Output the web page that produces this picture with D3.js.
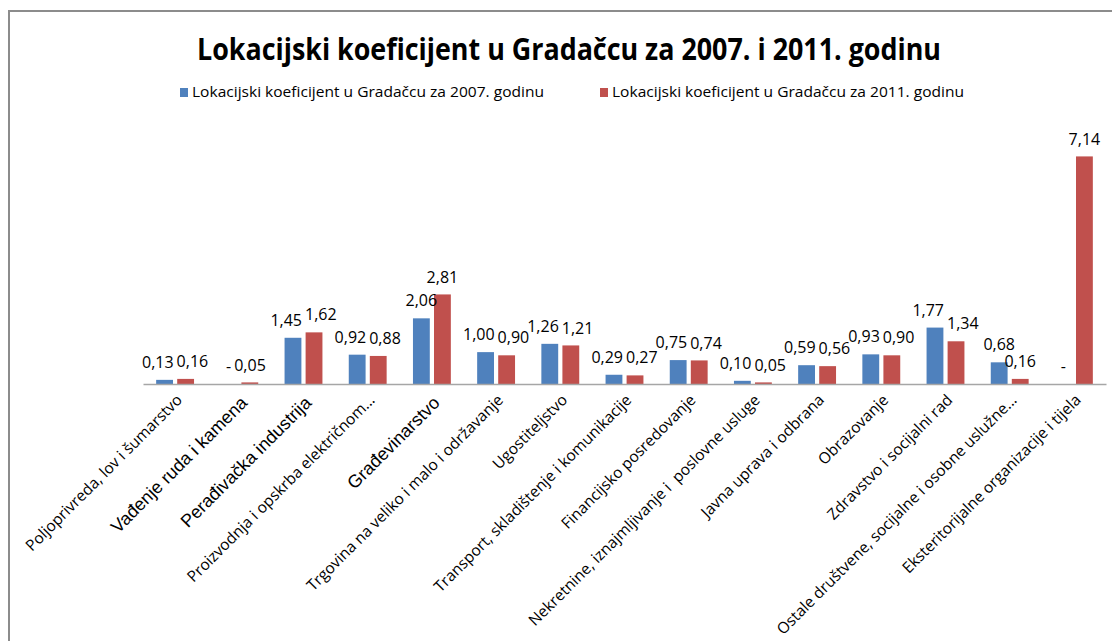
<!DOCTYPE html>
<html>
<head>
<meta charset="utf-8">
<script src="https://cdn.jsdelivr.net/npm/d3@7"></script>
<style>
  html, body { margin: 0; background: #fff; overflow: hidden; }
  svg { display: block; }
  text { fill: #000; }
</style>
</head>
<body>
<div class="canvas"></div>
<script>
// data
const categories = [
  'Poljoprivreda, lov i šumarstvo',
  'Vađenje ruda i kamena',
  'Perađivačka industrija',
  'Proizvodnja i opskrba električnom...',
  'Građevinarstvo',
  'Trgovina na veliko i malo i održavanje',
  'Ugostiteljstvo',
  'Transport, skladištenje i komunikacije',
  'Financijsko posredovanje',
  'Nekretnine, iznajmljivanje i  poslovne usluge',
  'Javna uprava i odbrana',
  'Obrazovanje',
  'Zdravstvo i socijalni rad',
  'Ostale društvene, socijalne i osobne uslužne...',
  'Eksteritorijalne organizacije i tijela'
];
const values2007 = [0.13, null, 1.45, 0.92, 2.06, 1.00, 1.26, 0.29, 0.75, 0.10, 0.59, 0.93, 1.77, 0.68, null];
const values2011 = [0.16, 0.05, 1.62, 0.88, 2.81, 0.90, 1.21, 0.27, 0.74, 0.05, 0.56, 0.90, 1.34, 0.16, 7.14];
const seriesNames = [
  'Lokacijski koeficijent u Gradačcu za 2007. godinu',
  'Lokacijski koeficijent u Gradačcu za 2011. godinu'
];
const titleText = 'Lokacijski koeficijent u Gradačcu za 2007. i 2011. godinu';

const dims = { width: 1112, height: 641 };
const plot = { left: 143, right: 1106, top: 129, bottom: 384 };
const colors = ['#4F81BD', '#C0504D'];
const calibri = "'Open Sans', sans-serif";
const arialCats = new Set(['Vađenje ruda i kamena', 'Perađivačka industrija', 'Građevinarstvo']);

const locale = d3.formatLocale({ decimal: ',', thousands: '.', grouping: [3], currency: ['', ''] });
const fmt = locale.format('.2f');

const svg = d3.select('.canvas')
  .append('svg')
  .attr('width', dims.width)
  .attr('height', dims.height);

// chart frame: only the top and left edges are inside the picture
svg.append('path')
  .attr('d', `M9,${dims.height} V11 H${dims.width}`)
  .attr('fill', 'none')
  .attr('stroke', '#8c8c8c')
  .attr('stroke-width', 2);

// title
svg.append('text')
  .attr('x', 569).attr('y', 60)
  .attr('text-anchor', 'middle')
  .attr('font-family', calibri)
  .attr('font-weight', 'bold')
  .attr('font-size', 30)
  .attr('textLength', 744)
  .attr('lengthAdjust', 'spacingAndGlyphs')
  .text(titleText);

// legend
const legendX = [180, 600];
const legend = svg.append('g');
seriesNames.forEach((name, i) => {
  const g = legend.append('g').attr('transform', `translate(${legendX[i]}, 88)`);
  g.append('rect').attr('width', 8).attr('height', 9).attr('fill', colors[i]);
  g.append('text')
    .attr('x', 12).attr('y', 9)
    .attr('font-family', calibri)
    .attr('font-size', 14)
    .attr('textLength', 352)
    .attr('lengthAdjust', 'spacingAndGlyphs')
    .text(name);
});

// scales
const x0 = d3.scaleBand()
  .domain(categories)
  .range([plot.left, plot.right])
  .paddingInner(0.41)
  .paddingOuter(0.205);

const x1 = d3.scaleBand()
  .domain([0, 1])
  .range([0, x0.bandwidth()])
  .paddingInner(0.2);

const y = d3.scaleLinear()
  .domain([0, 8])
  .range([plot.bottom, plot.top]);

const rows = categories.map((c, i) => ({
  cat: c,
  vals: [values2007[i], values2011[i]]
}));

// bars
const groups = svg.append('g').selectAll('g')
  .data(rows)
  .enter().append('g')
  .attr('transform', d => `translate(${x0(d.cat)}, 0)`);

groups.selectAll('rect')
  .data(d => d.vals.map((v, s) => ({ v, s })))
  .enter().append('rect')
  .attr('x', d => x1(d.s))
  .attr('y', d => y(d.v || 0))
  .attr('width', x1.bandwidth())
  .attr('height', d => y(0) - y(d.v || 0))
  .attr('fill', d => colors[d.s]);

// x axis
const xAxis = d3.axisBottom(x0).tickSize(0).tickFormat(d => d);
const axisG = svg.append('g')
  .attr('transform', `translate(0, ${plot.bottom})`)
  .call(xAxis);
axisG.select('.domain').attr('stroke', '#a6a6a6').attr('stroke-width', 1.5);
axisG.selectAll('text')
  .attr('x', 0).attr('y', 0).attr('dy', 0)
  .attr('text-anchor', 'end')
  .attr('fill', '#000')
  .style('white-space', 'pre')
  .attr('font-family', d => arialCats.has(d) ? "'Liberation Sans', Arial, sans-serif" : calibri)
  .attr('font-size', d => arialCats.has(d) ? 18 : 15.5)
  .attr('transform', d => arialCats.has(d) ? 'translate(9, 20) rotate(-45)' : 'translate(8, 17) rotate(-45)');

// data labels, with a small nudge when the pair in a group collides
const labelLayer = svg.append('g')
  .attr('font-family', calibri)
  .attr('font-size', 16)
  .attr('text-anchor', 'middle');

rows.forEach(r => {
  const items = r.vals.map((v, s) => {
    const t = v === null ? '-' : fmt(v);
    return {
      text: t,
      cx: x0(r.cat) + x1(s) + x1.bandwidth() / 2,
      cy: y(v || 0) - 17.5
    };
  });
  const nodes = items.map(it => labelLayer.append('text')
    .attr('x', it.cx).attr('y', it.cy).attr('dy', '0.35em')
    .text(it.text));
  const w = nodes.map(n => n.node().getComputedTextLength());
  const a = items[0], b = items[1];
  const need = (w[0] + w[1]) / 2 + 3;
  if (Math.abs(a.cy - b.cy) < 16 && b.cx - a.cx < need) {
    const shift = (need - (b.cx - a.cx)) / 2;
    nodes[0].attr('x', a.cx - shift);
    nodes[1].attr('x', b.cx + shift);
  }
});
</script>
</body>
</html>
